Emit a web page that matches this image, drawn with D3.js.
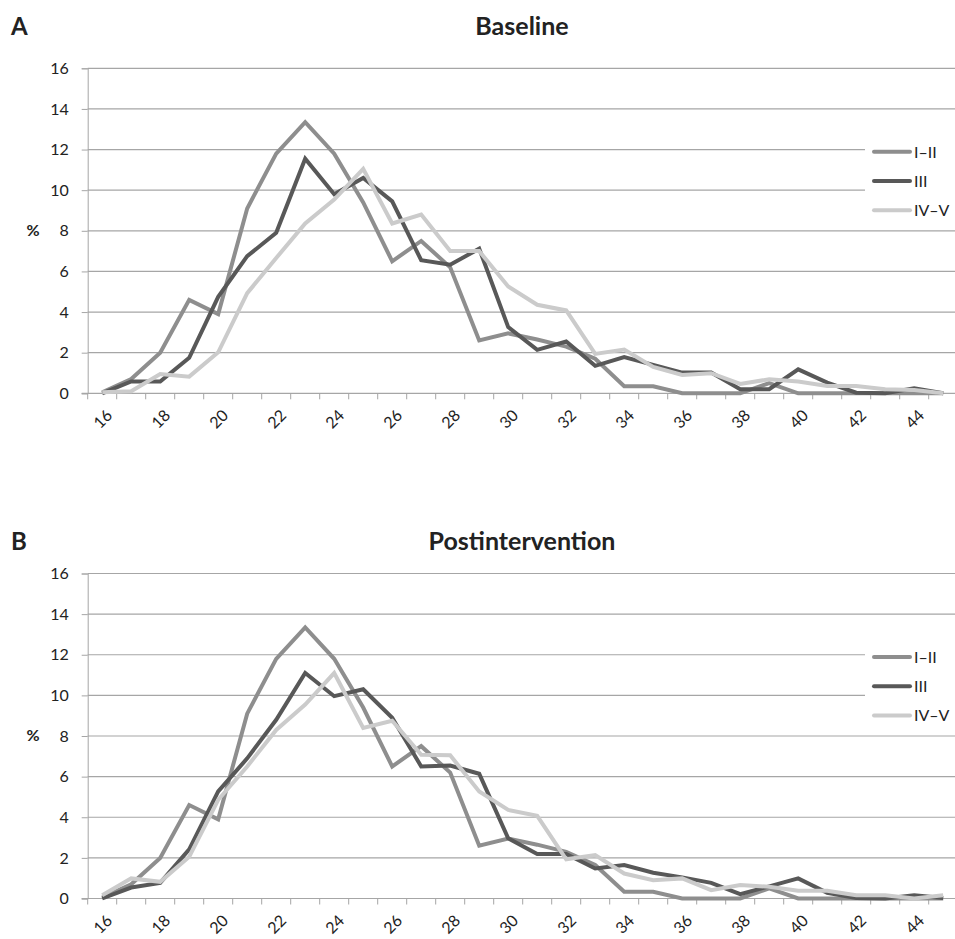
<!DOCTYPE html>
<html>
<head>
<meta charset="utf-8">
<script src="https://cdnjs.cloudflare.com/ajax/libs/d3/7.8.5/d3.min.js"></script>
<style>
  body { margin: 0; background: #fff; }
  svg { display: block; font-family: Lato, "Open Sans", sans-serif; }
</style>
</head>
<body>
<div id="chart"></div>
<script>
// BMI categories on x axis
const bmi = d3.range(16, 46);
const yTicks = [0, 2, 4, 6, 8, 10, 12, 14, 16];
const seriesNames = ["I–II", "III", "IV–V"];
const seriesColors = ["#8e8e8e", "#585858", "#cbcbcb"];

// Panel A - baseline
const baseI_II = [0.05, 0.7, 2.0, 4.6, 3.9, 9.1, 11.8, 13.35, 11.8, 9.4, 6.5, 7.5, 6.2, 2.6, 2.95, 2.65, 2.3, 1.7, 0.35, 0.35, 0, 0, 0, 0.5, 0, 0, 0, 0, 0, 0];
const baseIII = [0, 0.58, 0.58, 1.75, 4.75, 6.75, 7.9, 11.55, 9.8, 10.6, 9.45, 6.55, 6.33, 7.12, 3.26, 2.14, 2.55, 1.35, 1.78, 1.4, 1.02, 1.02, 0.2, 0.2, 1.18, 0.53, 0.03, 0, 0.25, 0];
const baseIV_V = [0.05, 0.1, 0.95, 0.82, 2.02, 4.93, 6.66, 8.36, 9.54, 11.05, 8.36, 8.8, 7.0, 7.0, 5.26, 4.36, 4.08, 1.94, 2.15, 1.3, 0.9, 0.99, 0.46, 0.69, 0.58, 0.36, 0.36, 0.2, 0.16, 0];

// Panel B - postintervention
const postI_II = [0.05, 0.7, 2.0, 4.6, 3.9, 9.1, 11.8, 13.35, 11.8, 9.4, 6.5, 7.5, 6.2, 2.6, 2.95, 2.65, 2.3, 1.65, 0.33, 0.33, 0, 0, 0, 0.5, 0, 0, 0, 0, 0, 0];
const postIII = [0, 0.54, 0.77, 2.42, 5.27, 6.9, 8.8, 11.1, 9.96, 10.3, 8.9, 6.5, 6.55, 6.14, 2.96, 2.19, 2.19, 1.48, 1.65, 1.27, 1.04, 0.77, 0.21, 0.6, 0.99, 0.28, 0.03, 0, 0.16, 0.03];
const postIV_V = [0.16, 0.99, 0.82, 2.06, 4.86, 6.5, 8.3, 9.55, 11.1, 8.4, 8.75, 7.08, 7.05, 5.27, 4.36, 4.07, 1.93, 2.14, 1.23, 0.9, 0.99, 0.41, 0.66, 0.58, 0.38, 0.38, 0.16, 0.16, 0, 0.16];

const panels = [
  { letter: "A", title: "Baseline", top: 68.3, titleY: 35, series: [baseI_II, baseIII, baseIV_V] },
  { letter: "B", title: "Postintervention", top: 573.5, titleY: 550, series: [postI_II, postIII, postIV_V] }
];

const width = 955, height = 939;
const plotH = 325;
const left = 87.7, right = 957.7;

const svg = d3.select("#chart").append("svg")
  .attr("width", width)
  .attr("height", height);

const x = d3.scaleBand()
  .domain(bmi)
  .range([left, right]);

panels.forEach(p => {
  const y = d3.scaleLinear()
    .domain([0, 16])
    .range([p.top + plotH, p.top]);

  const g = svg.append("g");

  // panel letter + title
  g.append("text")
    .attr("x", 11).attr("y", p.titleY)
    .attr("font-size", 24).attr("font-weight", "bold").attr("fill", "#222")
    .text(p.letter);
  g.append("text")
    .attr("x", 522).attr("y", p.titleY)
    .attr("text-anchor", "middle")
    .attr("font-size", 25).attr("font-weight", "bold").attr("fill", "#222")
    .text(p.title);

  // gridlines + y axis
  const yAxis = g.append("g")
    .attr("transform", `translate(${left},0)`)
    .call(d3.axisLeft(y).tickValues(yTicks).tickSize(6).tickPadding(13));
  yAxis.select(".domain").attr("stroke", "#a6a6a6");
  yAxis.selectAll(".tick line").attr("stroke", "#a6a6a6");
  yAxis.selectAll(".tick text")
    .attr("font-size", 16).attr("fill", "#222")
    .attr("font-family", "Lato, sans-serif");

  g.append("g").selectAll("line")
    .data(yTicks.filter(d => d > 0))
    .join("line")
    .attr("x1", left).attr("x2", width)
    .attr("y1", d => y(d)).attr("y2", d => y(d))
    .attr("stroke", "#a6a6a6").attr("stroke-width", 1.2);

  // bottom axis: line + ticks between categories
  const base = y(0);
  g.append("line")
    .attr("x1", left - 6).attr("x2", width)
    .attr("y1", base).attr("y2", base)
    .attr("stroke", "#a6a6a6").attr("stroke-width", 1.2);
  g.append("g").selectAll("line")
    .data(bmi)
    .join("line")
    .attr("x1", d => x(d)).attr("x2", d => x(d))
    .attr("y1", base).attr("y2", base + 6)
    .attr("stroke", "#a6a6a6");

  g.append("g").selectAll("text")
    .data(bmi.filter(d => d % 2 === 0))
    .join("text")
    .attr("transform", d => `translate(${x(d) + x.bandwidth() / 2 + 3},${base + 15}) rotate(-45)`)
    .attr("text-anchor", "end")
    .attr("dy", "0.72em")
    .attr("font-size", 16).attr("fill", "#222")
    .text(d => d);

  // y label
  g.append("text")
    .attr("x", 33).attr("y", y(8) + 5)
    .attr("text-anchor", "middle")
    .attr("font-size", 16).attr("font-weight", "bold").attr("fill", "#222")
    .text("%");

  // lines
  const line = d3.line()
    .x((d, i) => x(bmi[i]) + x.bandwidth() / 2)
    .y(d => y(d));

  p.series.forEach((s, k) => {
    g.append("path")
      .datum(s)
      .attr("d", line)
      .attr("fill", "none")
      .attr("stroke", seriesColors[k])
      .attr("stroke-width", 4)
      .attr("stroke-linejoin", "miter");
  });

  // legend
  const lg = g.append("g");
  lg.append("rect")
    .attr("x", 865).attr("y", p.top + 67)
    .attr("width", 90).attr("height", 90)
    .attr("fill", "#fff");
  seriesNames.forEach((name, k) => {
    const ly = p.top + 83.5 + k * 29.2;
    lg.append("line")
      .attr("x1", 874).attr("x2", 910)
      .attr("y1", ly).attr("y2", ly)
      .attr("stroke", seriesColors[k])
      .attr("stroke-width", 4)
      .attr("stroke-linecap", "round");
    lg.append("text")
      .attr("x", 914).attr("y", ly + 6)
      .attr("font-size", 16).attr("fill", "#222")
      .text(name);
  });
});
</script>
</body>
</html>
